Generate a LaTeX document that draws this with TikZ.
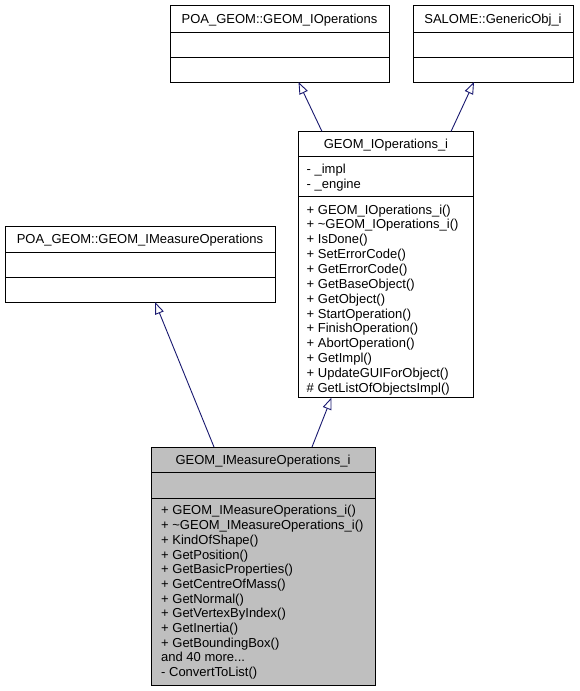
\documentclass[tikz,border=0pt]{standalone}
\usepackage{fontspec}
\setmainfont{Liberation Sans}
\usetikzlibrary{arrows.meta}
\definecolor{edgeblue}{HTML}{191970}
\definecolor{curgray}{HTML}{BFBFBF}
\begin{document}
\begin{tikzpicture}[x=1pt,y=-1pt,
  classbox/.style={draw=black,line width=1pt,inner sep=0pt,outer sep=0pt,anchor=north west},
  divider/.style={draw=black,line width=1pt},
  title/.style={font=\fontsize{13}{14.7}\selectfont,inner sep=0pt,anchor=base},
  members/.style={font=\fontsize{13}{14.7}\selectfont,align=left,anchor=north west,inner sep=0pt},
  members3/.style={members,font=\fontsize{13}{14.85}\selectfont},
  inherit/.style={draw=edgeblue,line width=0.9pt,-{Triangle[open,length=12pt,width=9pt]}}]
\useasboundingbox[fill=white] (0,0) rectangle (579,691);

% POA_GEOM::GEOM_IOperations
\node[classbox,fill=white,minimum width=219pt,minimum height=77pt] (b1) at (170,5) {};
\draw[divider] ([yshift=-27pt]b1.north west) -- ([yshift=-27pt]b1.north east);
\draw[divider] ([yshift=-52pt]b1.north west) -- ([yshift=-52pt]b1.north east);
\node[title] (t1) at (279.5,23) {POA\_GEOM::GEOM\_IOperations};

% SALOME::GenericObj_i
\node[classbox,fill=white,minimum width=160pt,minimum height=77pt] (b2) at (413,5) {};
\draw[divider] ([yshift=-27pt]b2.north west) -- ([yshift=-27pt]b2.north east);
\draw[divider] ([yshift=-52pt]b2.north west) -- ([yshift=-52pt]b2.north east);
\node[title] (t2) at (493,23) {SALOME::GenericObj\_i};

% GEOM_IOperations_i
\node[classbox,fill=white,minimum width=175pt,minimum height=266pt] (b3) at (298.5,131.5) {};
\draw[divider] ([yshift=-24.5pt]b3.north west) -- ([yshift=-24.5pt]b3.north east);
\draw[divider] ([yshift=-64.5pt]b3.north west) -- ([yshift=-64.5pt]b3.north east);
\node[title] (t3) at (386,148.7) {GEOM\_IOperations\_i};
\node[members3] (a3) at (306.5,163.2) {\rule{0pt}{10pt}- \_impl\\- \_engine};
\node[members3] (m3) at (306.5,203.9) {\rule{0pt}{10pt}+ GEOM\_IOperations\_i()\\
+ \textasciitilde GEOM\_IOperations\_i()\\
+ IsDone()\\
+ SetErrorCode()\\
+ GetErrorCode()\\
+ GetBaseObject()\\
+ GetObject()\\
+ StartOperation()\\
+ FinishOperation()\\
+ AbortOperation()\\
+ GetImpl()\\
+ UpdateGUIForObject()\\
\# GetListOfObjectsImpl()};

% POA_GEOM::GEOM_IMeasureOperations
\node[classbox,fill=white,minimum width=270pt,minimum height=76pt] (b4) at (5,226) {};
\draw[divider] ([yshift=-26pt]b4.north west) -- ([yshift=-26pt]b4.north east);
\draw[divider] ([yshift=-51pt]b4.north west) -- ([yshift=-51pt]b4.north east);
\node[title] (t4) at (140,243.7) {POA\_GEOM::GEOM\_IMeasureOperations};

% GEOM_IMeasureOperations_i
\node[classbox,fill=curgray,minimum width=224pt,minimum height=238pt] (b5) at (151,447) {};
\draw[divider] ([yshift=-25pt]b5.north west) -- ([yshift=-25pt]b5.north east);
\draw[divider] ([yshift=-51pt]b5.north west) -- ([yshift=-51pt]b5.north east);
\node[title] (t5) at (263,464) {GEOM\_IMeasureOperations\_i};
\node[members] (m5) at (161,504.7) {\rule{0pt}{10pt}+ GEOM\_IMeasureOperations\_i()\\
+ \textasciitilde GEOM\_IMeasureOperations\_i()\\
+ KindOfShape()\\
+ GetPosition()\\
+ GetBasicProperties()\\
+ GetCentreOfMass()\\
+ GetNormal()\\
+ GetVertexByIndex()\\
+ GetInertia()\\
+ GetBoundingBox()\\
and 40 more...\\
- ConvertToList()};

% inheritance edges
\draw[inherit] ([xshift=23.5pt]b3.north west) -- ([xshift=128.5pt]b1.south west);
\draw[inherit] ([xshift=152.5pt]b3.north west) -- ([xshift=61pt]b2.south west);
\draw[inherit] ([xshift=63pt]b5.north west) -- ([xshift=150pt]b4.south west);
\draw[inherit] ([xshift=161pt]b5.north west) -- ([xshift=33pt]b3.south west);
\end{tikzpicture}
\end{document}
